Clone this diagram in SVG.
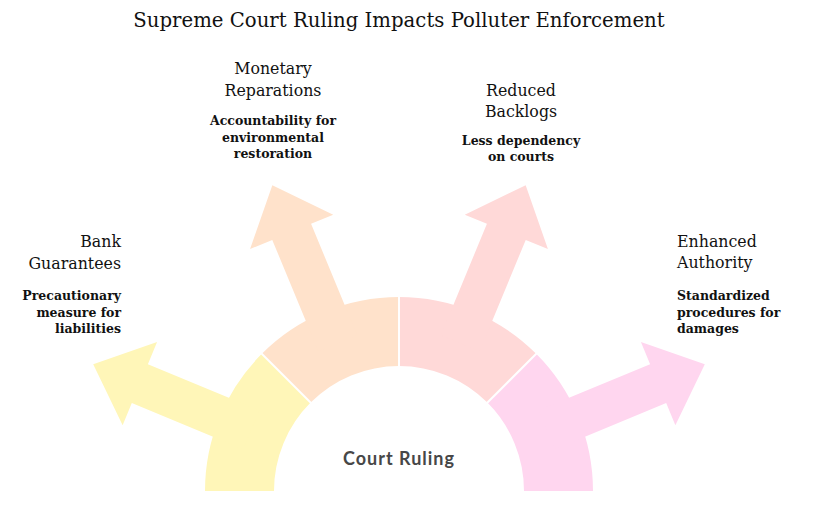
<svg xmlns="http://www.w3.org/2000/svg" width="815" height="509" viewBox="0 0 815 509">
<style>
.t{font-family:"DejaVu Serif","Liberation Serif",serif;fill:#111}
.title{font-size:19.7px}
.h{font-size:15.8px}
.d{font-size:12.5px;font-weight:bold}
.sep{stroke:#fff;stroke-width:2}
.c{font-family:"Lato","Noto Sans",sans-serif;font-weight:bold;font-size:18px;letter-spacing:1px;fill:#474747}
</style>
<rect width="815" height="509" fill="#fff"/>
<text class="t title" x="399" y="27" text-anchor="middle">Supreme Court Ruling Impacts Polluter Enforcement</text>
<g id="bank-guarantees">
<path fill="#FFF6B8" d="M205,491 A194,194 0 0 1 261.82,353.82 L310.61,402.61 A125,125 0 0 0 274,491 Z"/>
<polygon fill="#FFF6B8" points="259.22,410.37 147.89,364.26 157.07,342.09 93.20,364.33 122.63,425.23 131.81,403.06 243.14,449.17"/>
<text class="t h" text-anchor="end"><tspan x="121" y="247">Bank</tspan><tspan x="121" y="269">Guarantees</tspan></text>
<text class="t d" text-anchor="end"><tspan x="121" y="300">Precautionary</tspan><tspan x="121" y="317">measure for</tspan><tspan x="121" y="333">liabilities</tspan></text>
</g>
<g id="monetary-reparations">
<path fill="#FFE2CB" d="M261.82,353.82 A194,194 0 0 1 399,297 L399,366 A125,125 0 0 0 310.61,402.61 Z"/>
<polygon fill="#FFE2CB" points="357.17,335.14 311.06,223.81 333.23,214.63 272.33,185.20 250.09,249.07 272.26,239.89 318.37,351.22"/>
<text class="t h" text-anchor="middle"><tspan x="273" y="74">Monetary</tspan><tspan x="273" y="96">Reparations</tspan></text>
<text class="t d" text-anchor="middle"><tspan x="273" y="125">Accountability for</tspan><tspan x="273" y="142">environmental</tspan><tspan x="273" y="158">restoration</tspan></text>
</g>
<g id="reduced-backlogs">
<path fill="#FFD9D8" d="M399,297 A194,194 0 0 1 536.18,353.82 L487.39,402.61 A125,125 0 0 0 399,366 Z"/>
<polygon fill="#FFD9D8" points="440.83,335.14 486.94,223.81 464.77,214.63 525.67,185.20 547.91,249.07 525.74,239.89 479.63,351.22"/>
<text class="t h" text-anchor="middle"><tspan x="521" y="96">Reduced</tspan><tspan x="521" y="117">Backlogs</tspan></text>
<text class="t d" text-anchor="middle"><tspan x="521" y="145">Less dependency</tspan><tspan x="521" y="161">on courts</tspan></text>
</g>
<g id="enhanced-authority">
<path fill="#FFD6EF" d="M536.18,353.82 A194,194 0 0 1 593,491 L524,491 A125,125 0 0 0 487.39,402.61 Z"/>
<polygon fill="#FFD6EF" points="538.78,410.37 650.11,364.26 640.93,342.09 704.80,364.33 675.37,425.23 666.19,403.06 554.86,449.17"/>
<text class="t h"><tspan x="677" y="247">Enhanced</tspan><tspan x="677" y="268">Authority</tspan></text>
<text class="t d"><tspan x="677" y="300">Standardized</tspan><tspan x="677" y="317">procedures for</tspan><tspan x="677" y="333">damages</tspan></text>
</g>
<g id="connectors">
<line class="sep" x1="260" y1="352" x2="312" y2="404"/>
<line class="sep" x1="399" y1="295" x2="399" y2="368"/>
<line class="sep" x1="538" y1="352" x2="486" y2="404"/>
</g>
<g id="court-ruling">
<text class="c" x="399" y="465" text-anchor="middle">Court Ruling</text>
</g>
</svg>
